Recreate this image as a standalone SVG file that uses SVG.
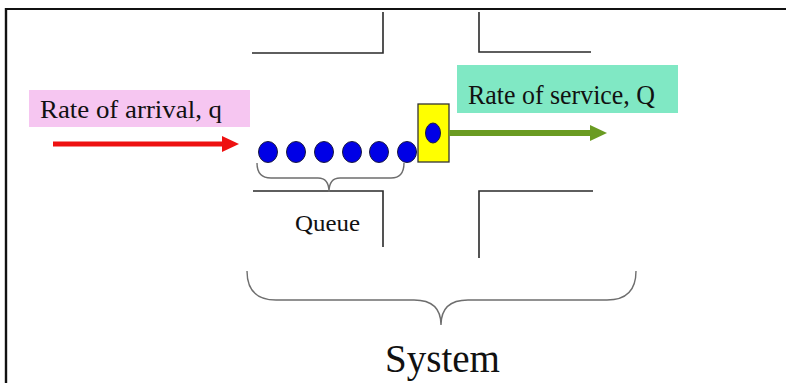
<svg xmlns="http://www.w3.org/2000/svg" width="786" height="383" viewBox="0 0 786 383">
  <defs>
    <style>
      .wall { fill: none; stroke: #2a2a2a; stroke-width: 1.6; }
      .brace { fill: none; stroke: #6e6e6e; stroke-width: 1.4; }
      .dot { fill: #0000e6; stroke: #1a1a40; stroke-width: 1; }
      .txt { font-family: "Liberation Serif", "Times New Roman", serif; fill: #111; }
    </style>
  </defs>
  <rect x="0" y="0" width="786" height="383" fill="#ffffff"/>
  <g id="frame">
    <line x1="5" y1="9" x2="786" y2="9" stroke="#111" stroke-width="2.2"/>
    <line x1="6" y1="8" x2="6" y2="383" stroke="#111" stroke-width="2.4"/>
  </g>
  <g id="walls">
    <polyline class="wall" points="252,53 383,53 383,12"/>
    <polyline class="wall" points="479,12 479,52 591,52"/>
    <polyline class="wall" points="253,191 383,191 383,247"/>
    <polyline class="wall" points="479,258 479,191 593,191"/>
  </g>
  <g id="arrival">
    <rect x="29" y="90" width="221" height="37" fill="#f6c6f1"/>
    <text class="txt" x="40" y="118" font-size="26" textLength="182" lengthAdjust="spacingAndGlyphs">Rate of arrival, q</text>
  </g>
  <g id="service">
    <rect x="457" y="65" width="221" height="48" fill="#80e8c4"/>
    <text class="txt" x="468" y="104" font-size="28" textLength="187" lengthAdjust="spacingAndGlyphs">Rate of service, Q</text>
  </g>
  <g id="queue">
    <ellipse class="dot" cx="268" cy="152" rx="9.5" ry="10.5"/>
    <ellipse class="dot" cx="296" cy="152" rx="9.5" ry="10.5"/>
    <ellipse class="dot" cx="324" cy="152" rx="9.5" ry="10.5"/>
    <ellipse class="dot" cx="352" cy="152" rx="9.5" ry="10.5"/>
    <ellipse class="dot" cx="379" cy="152" rx="9.5" ry="10.5"/>
    <ellipse class="dot" cx="407" cy="152" rx="9.5" ry="10.5"/>
  </g>
  <g id="server">
    <rect x="418" y="104" width="31" height="58" fill="#ffff00" stroke="#333" stroke-width="1.3"/>
    <ellipse class="dot" cx="433" cy="133" rx="7.5" ry="10"/>
  </g>
  <g id="connectors">
    <line x1="53" y1="144" x2="224" y2="144" stroke="#ee1111" stroke-width="5"/>
    <polygon points="222,136 239,144 222,152" fill="#ee1111"/>
    <line x1="449" y1="133" x2="592" y2="133" stroke="#6a9b22" stroke-width="6"/>
    <polygon points="590,125 607,133 590,141" fill="#6a9b22"/>
  </g>
  <g id="queue-brace">
    <path class="brace" d="M257,163 Q257,178 271,178 L318,178 Q329,178 329,192 Q329,178 340,178 L391,178 Q404,178 404,163"/>
    <text class="txt" x="295" y="231" font-size="23" textLength="65" lengthAdjust="spacingAndGlyphs">Queue</text>
  </g>
  <g id="system-brace">
    <path class="brace" d="M247,271 Q247,300 276,300 L414,300 Q441,300 441,325 Q441,300 468,300 L607,300 Q636,300 636,271"/>
    <text class="txt" x="385" y="372" font-size="40" textLength="115" lengthAdjust="spacingAndGlyphs">System</text>
  </g>
</svg>
